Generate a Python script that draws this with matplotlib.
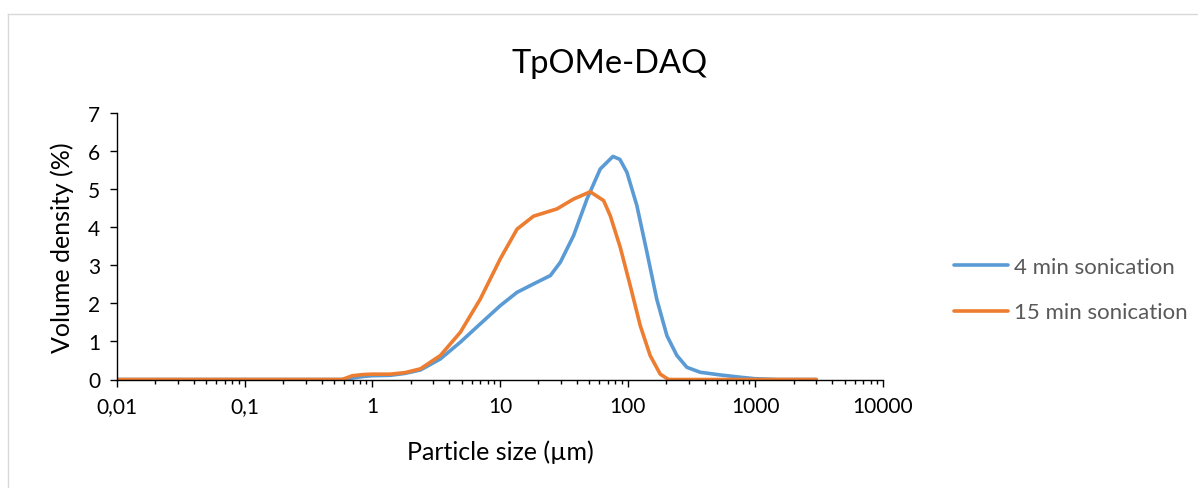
import matplotlib
matplotlib.use('Agg')
import matplotlib.pyplot as plt
from matplotlib.ticker import FixedLocator, FuncFormatter, LogLocator, NullFormatter
from matplotlib.lines import Line2D

plt.rcParams['font.family'] = ['Lato', 'DejaVu Sans']

# размеры частиц (мкм) и плотность объёма (%)
size_4min = [0.01, 0.1, 0.58, 0.7, 0.85, 1.0, 1.38, 1.8, 2.38, 3.41, 4.89, 7.0, 10.05,
             13.6, 18.3, 24.8, 29.7, 37.7, 48.0, 61.0, 76.7, 87.0, 98.7, 118, 141.6, 169,
             203, 243, 291, 370, 531, 762, 1000, 1500, 3000]
vol_4min = [0, 0, 0, 0.04, 0.08, 0.1, 0.11, 0.16, 0.25, 0.54, 0.98, 1.46, 1.94,
            2.29, 2.51, 2.73, 3.08, 3.78, 4.74, 5.53, 5.86, 5.78, 5.44, 4.57, 3.34, 2.11,
            1.15, 0.63, 0.32, 0.19, 0.12, 0.06, 0.02, 0, 0]

size_15min = [0.01, 0.1, 0.58, 0.7, 0.85, 1.0, 1.38, 1.8, 2.38, 3.41, 4.89, 7.0, 10.05,
              13.6, 18.3, 27.9, 37.7, 50.9, 64.8, 73.1, 87.5, 104.8, 125.6, 150, 180, 209,
              300, 1000, 3000]
vol_15min = [0, 0, 0, 0.1, 0.13, 0.14, 0.14, 0.18, 0.28, 0.63, 1.24, 2.11, 3.17,
             3.95, 4.29, 4.48, 4.74, 4.93, 4.7, 4.3, 3.47, 2.46, 1.41, 0.63, 0.14, 0,
             0, 0, 0]

label_4 = '4 min sonication'
label_15 = '15 min sonication'
blue = '#5B9BD5'
orange = '#ED7D31'

fig = plt.figure(figsize=(11.98, 4.89), dpi=100)
ax = fig.add_axes([117/1198, 1-380.5/489, (883-117)/1198, (380.5-114)/489])

ax.plot(size_4min, vol_4min, color=blue, lw=2.6, solid_capstyle='round', solid_joinstyle='round')
ax.plot(size_15min, vol_15min, color=orange, lw=2.6, solid_capstyle='round', solid_joinstyle='round')

ax.set_xscale('log')
ax.set_xlim(0.01, 10000)
ax.set_ylim(0, 7)
ax.set_yticks(range(0, 8))
ax.xaxis.set_major_locator(FixedLocator([0.01, 0.1, 1, 10, 100, 1000, 10000]))
ax.xaxis.set_minor_locator(LogLocator(base=10, subs=range(2, 10), numticks=20))
ax.xaxis.set_minor_formatter(NullFormatter())
ax.xaxis.set_major_formatter(FuncFormatter(lambda v, p: ('%g' % v).replace('.', ',')))

for s in ['top', 'right']:
    ax.spines[s].set_visible(False)
for s in ['left', 'bottom']:
    ax.spines[s].set_color('black')
    ax.spines[s].set_linewidth(1.0)
ax.tick_params(axis='both', which='major', direction='out', length=5, width=1,
               labelsize=15, pad=7, color='black')
ax.tick_params(axis='x', which='minor', direction='out', length=3, width=1, color='black')

ax.set_xlabel('Particle size (µm)', fontsize=18, labelpad=17)
ax.set_ylabel('Volume density (%)', fontsize=18, labelpad=10)
fig.text(610/1198, 1-72.7/489, 'TpOMe-DAQ', fontsize=23.5, ha='center', va='baseline')

handles = [Line2D([], [], color=blue, lw=2.6, solid_capstyle='round'),
           Line2D([], [], color=orange, lw=2.6, solid_capstyle='round')]
fig.legend(handles, [label_4, label_15], loc='center left', bbox_to_anchor=(934/1198, 1-290.5/489),
           frameon=False, fontsize=16, handlelength=2.45, handletextpad=0.25, labelspacing=1.15,
           labelcolor='#595959')

# рамка области диаграммы как в Excel
fig.add_artist(Line2D([7.5/1198, 7.5/1198], [0, 1-14.5/489], transform=fig.transFigure,
                      color='#D9D9D9', lw=1))
fig.add_artist(Line2D([7.5/1198, 1], [1-14.5/489, 1-14.5/489], transform=fig.transFigure,
                      color='#D9D9D9', lw=1))

fig.savefig('out.png', dpi=100)
